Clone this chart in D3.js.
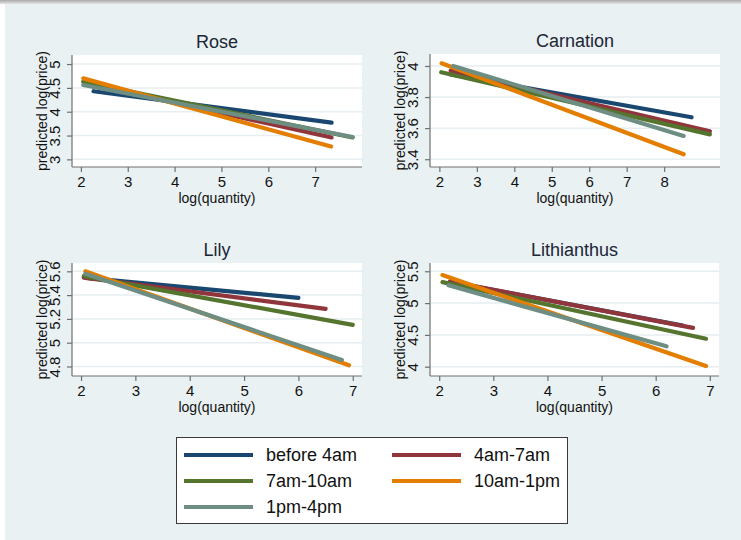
<!DOCTYPE html>
<html>
<head>
<meta charset="utf-8">
<script src="https://cdn.jsdelivr.net/npm/d3@7"></script>
<style>
  html, body { margin: 0; padding: 0; background: #ffffff; }
  svg { display: block; }
  text { font-family: "Liberation Sans", Arial, sans-serif; }
</style>
</head>
<body>
<svg id="chart" width="741" height="540"></svg>
<script>
// ---------------- data ----------------
const categories = ["before 4am", "4am-7am", "7am-10am", "10am-1pm", "1pm-4pm"];
const colors = ["#1a476f", "#90353b", "#55752f", "#e37e00", "#6e8e84"];
const panelTitles = ["Rose", "Carnation", "Lily", "Lithianthus"];

// fitted lines per panel: for each category [xStart, yStart, xEnd, yEnd]
const roseLines = [
  [2.27, 4.43, 7.35, 3.77],
  [2.10, 4.60, 7.35, 3.46],
  [2.05, 4.63, 7.80, 3.46],
  [2.05, 4.70, 7.34, 3.27],
  [2.05, 4.56, 7.80, 3.47]
];
const carnationLines = [
  [2.30, 3.945, 8.73, 3.67],
  [2.30, 3.97, 9.22, 3.58],
  [2.05, 3.96, 9.22, 3.56],
  [2.06, 4.017, 8.52, 3.432],
  [2.37, 4.00, 8.52, 3.55]
];
const lilyLines = [
  [2.10, 5.545, 6.00, 5.377],
  [2.05, 5.547, 6.50, 5.285],
  [2.05, 5.56, 7.00, 5.15],
  [2.08, 5.60, 6.93, 4.81],
  [2.08, 5.58, 6.80, 4.855]
];
const lithianthusLines = [
  [2.20, 5.335, 6.50, 4.645],
  [2.20, 5.34, 6.69, 4.61],
  [2.06, 5.33, 6.93, 4.44],
  [2.06, 5.44, 6.93, 4.01],
  [2.17, 5.28, 6.20, 4.32]
];
const panelLines = [roseLines, carnationLines, lilyLines, lithianthusLines];

// tick labels
const roseXTicks = [2, 3, 4, 5, 6, 7];
const roseYTicks = [3, 3.5, 4, 4.5, 5];
const carnationXTicks = [2, 3, 4, 5, 6, 7, 8];
const carnationYTicks = [3.4, 3.6, 3.8, 4];
const lilyXTicks = [2, 3, 4, 5, 6, 7];
const lilyYTicks = [4.8, 5, 5.2, 5.4, 5.6];
const lithianthusXTicks = [2, 3, 4, 5, 6, 7];
const lithianthusYTicks = [4, 4.5, 5, 5.5];
const panelXTicks = [roseXTicks, carnationXTicks, lilyXTicks, lithianthusXTicks];
const panelYTicks = [roseYTicks, carnationYTicks, lilyYTicks, lithianthusYTicks];

// axis ranges (data units)
const panelXDomains = [[1.81, 8.0], [1.75, 9.49], [1.834, 7.17], [1.83, 7.17]];
const panelYDomains = [[2.84, 5.19], [3.35, 4.077], [4.72, 5.67], [3.854, 5.63]];

const xTitle = "log(quantity)";
const yTitle = "predicted log(price)";

// ---------------- layout ----------------
const BG = "#e9f1f3";
const GRID = "#e6eef1";
const AXIS = "#707070";
const plotBoxes = [
  {x0: 72, x1: 362, y0: 55, y1: 167},
  {x0: 430, x1: 720, y0: 54, y1: 167},
  {x0: 72, x1: 362, y0: 263, y1: 376},
  {x0: 430, x1: 719, y0: 263, y1: 376}
];

const svg = d3.select("#chart");

// page & top shadow
const defs = svg.append("defs");
const grad = defs.append("linearGradient").attr("id", "shadow").attr("x1", 0).attr("y1", 0).attr("x2", 0).attr("y2", 1);
grad.append("stop").attr("offset", "0%").attr("stop-color", "#a9a9a9");
grad.append("stop").attr("offset", "100%").attr("stop-color", "#e4e4e4");
svg.append("rect").attr("x", 0).attr("y", 0).attr("width", 741).attr("height", 4).attr("fill", "url(#shadow)");
svg.append("rect").attr("x", 5).attr("y", 4).attr("width", 736).attr("height", 536).attr("fill", BG);

const fmt = d => String(+d.toFixed(2));

panelTitles.forEach((title, i) => {
  const b = plotBoxes[i];
  const x = d3.scaleLinear().domain(panelXDomains[i]).range([b.x0, b.x1]);
  const y = d3.scaleLinear().domain(panelYDomains[i]).range([b.y1, b.y0]);
  const g = svg.append("g");

  // plot region
  g.append("rect").attr("x", b.x0).attr("y", b.y0).attr("width", b.x1 - b.x0).attr("height", b.y1 - b.y0).attr("fill", "#ffffff");

  // grid
  g.selectAll("line.grid").data(panelYTicks[i]).enter().append("line")
    .attr("x1", b.x0).attr("x2", b.x1)
    .attr("y1", d => y(d)).attr("y2", d => y(d))
    .attr("stroke", GRID).attr("stroke-width", 1.5);

  // lines
  const lineGen = d3.line().x(d => x(d[0])).y(d => y(d[1]));
  panelLines[i].forEach((s, k) => {
    g.append("path")
      .attr("d", lineGen([[s[0], s[1]], [s[2], s[3]]]))
      .attr("fill", "none").attr("stroke", colors[k]).attr("stroke-width", 4.2)
      .attr("stroke-linecap", "round");
  });

  // x axis
  const xAxis = d3.axisBottom(x).tickValues(panelXTicks[i]).tickSize(5).tickPadding(4).tickFormat(fmt);
  const gx = g.append("g").attr("transform", `translate(0,${b.y1})`).call(xAxis);
  gx.select(".domain").attr("d", `M${b.x0},0H${b.x1}`).attr("stroke", AXIS).attr("stroke-width", 1.2);
  gx.selectAll(".tick line").attr("stroke", AXIS).attr("stroke-width", 1.2);
  gx.selectAll(".tick text").attr("font-size", 15).attr("fill", "#111").attr("font-family", "Liberation Sans, Arial, sans-serif");

  // y axis
  const yAxis = d3.axisLeft(y).tickValues(panelYTicks[i]).tickSize(5).tickFormat(fmt);
  const gy = g.append("g").attr("transform", `translate(${b.x0},0)`).call(yAxis);
  gy.select(".domain").attr("d", `M0,${b.y0}V${b.y1}`).attr("stroke", AXIS).attr("stroke-width", 1.2);
  gy.selectAll(".tick line").attr("stroke", AXIS).attr("stroke-width", 1.2);
  gy.selectAll(".tick text")
    .attr("font-size", 15).attr("fill", "#111").attr("font-family", "Liberation Sans, Arial, sans-serif")
    .attr("x", null).attr("dy", null)
    .attr("text-anchor", "middle")
    .attr("transform", "translate(-12,0) rotate(-90)");

  // titles
  g.append("text").attr("x", (b.x0 + b.x1) / 2).attr("y", b.y0 - 7)
    .attr("text-anchor", "middle").attr("font-size", 18).attr("fill", "#1c2635").text(title);
  g.append("text").attr("x", (b.x0 + b.x1) / 2).attr("y", b.y1 + 36)
    .attr("text-anchor", "middle").attr("font-size", 14).attr("fill", "#111").text(xTitle);
  g.append("text").attr("transform", `translate(${b.x0 - 25},${(b.y0 + b.y1) / 2}) rotate(-90)`)
    .attr("text-anchor", "middle").attr("font-size", 14).attr("fill", "#111").text(yTitle);
});

// ---------------- legend ----------------
const leg = svg.append("g");
leg.append("rect").attr("x", 176.5).attr("y", 437.5).attr("width", 391).attr("height", 86)
  .attr("fill", "#ffffff").attr("stroke", "#3a3a3a").attr("stroke-width", 1);
const legCols = [184, 392];
const legRows = [455, 481, 507];
categories.forEach((c, k) => {
  const col = k % 2, row = Math.floor(k / 2);
  const lx = legCols[col], ly = legRows[row];
  leg.append("line").attr("x1", lx).attr("x2", lx + 69).attr("y1", ly).attr("y2", ly)
    .attr("stroke", colors[k]).attr("stroke-width", 4);
  leg.append("text").attr("x", lx + 82).attr("y", ly + 6).attr("font-size", 18).attr("fill", "#111").text(c);
});
</script>
</body>
</html>
